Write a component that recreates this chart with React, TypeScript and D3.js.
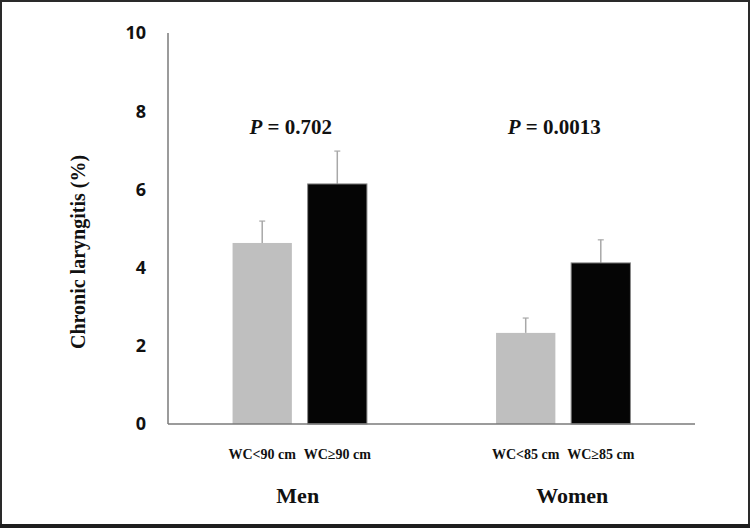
import React from "react";
import * as d3 from "d3";

const groups = ["Men", "Women"];
const subCategories = ["low", "high"];
const subLabels = [
  ["WC<90 cm", "WC≥90 cm"],
  ["WC<85 cm", "WC≥85 cm"],
];
const lowWC = [4.63, 2.33];
const highWC = [6.14, 4.12];
const lowErr = [0.56, 0.38];
const highErr = [0.84, 0.59];
const pValues = ["0.702", "0.0013"];
const yTicks = [0, 2, 4, 6, 8, 10];

const W = 750;
const H = 528;
const serif = "'Liberation Serif', 'Times New Roman', serif";
const sans = "'Open Sans', 'DejaVu Sans', sans-serif";

export default function App() {
  const y = d3.scaleLinear().domain([0, 10]).range([424, 33]);
  const x0 = d3
    .scaleBand<string>()
    .domain(groups)
    .range([168, 695])
    .paddingInner(0.49)
    .paddingOuter(0.245);
  const x1 = d3
    .scaleBand<string>()
    .domain(subCategories)
    .range([0, x0.bandwidth()])
    .paddingInner(0.21);

  const values = [lowWC, highWC];
  const errs = [lowErr, highErr];
  const fills = ["#bfbfbf", "#050505"];
  const groupLabelDx = [-2, 9];

  return (
    <svg
      width={W}
      height={H}
      style={{ position: "absolute", left: 0, top: 0, background: "#fff" }}
    >
      <rect x={0} y={0} width={W} height={H} fill="#fff" />
      {/* frame */}
      <rect x={1} y={1} width={W - 2} height={H - 3} fill="none" stroke="#2a2a2a" strokeWidth={2} />
      <rect x={0} y={H - 4} width={W} height={4} fill="#1e1e1e" />

      {/* bars */}
      {groups.map((g, gi) =>
        subCategories.map((s, si) => {
          const v = values[si][gi];
          const e = errs[si][gi];
          const bx = (x0(g) as number) + (x1(s) as number);
          const bw = x1.bandwidth();
          const cx = bx + bw / 2;
          return (
            <g key={g + s}>
              <line x1={cx} x2={cx} y1={y(v)} y2={y(v + e)} stroke="#a8a8a8" strokeWidth={1.5} />
              <line x1={cx - 3} x2={cx + 3} y1={y(v + e)} y2={y(v + e)} stroke="#a8a8a8" strokeWidth={1.2} />
              <rect
                x={bx}
                y={y(v)}
                width={bw}
                height={y(0) - y(v)}
                fill={fills[si]}
                stroke={si === 1 ? "#8a8a8a" : "none"}
                strokeWidth={1}
              />
            </g>
          );
        })
      )}

      {/* axes */}
      <line x1={168} x2={168} y1={y(10)} y2={y(0)} stroke="#7a7a7a" strokeWidth={1.5} />
      <line x1={168} x2={x0.range()[1]} y1={y(0)} y2={y(0)} stroke="#7a7a7a" strokeWidth={1.5} />

      {yTicks.map((t) => (
        <text
          key={t}
          x={146}
          y={y(t)}
          dy="0.36em"
          textAnchor="end"
          fontFamily={sans}
          fontWeight={700}
          fontSize={18}
          fill="#111"
        >
          {t}
        </text>
      ))}

      <text
        transform={`translate(85,252) rotate(-90)`}
        textAnchor="middle"
        fontFamily={serif}
        fontWeight={700}
        fontSize={20}
        fill="#111"
      >
        Chronic laryngitis (%)
      </text>

      {/* P values */}
      {groups.map((g, gi) => (
        <text
          key={"p" + g}
          x={(x0(g) as number) + x0.bandwidth() / 2 - 9}
          y={134}
          textAnchor="middle"
          fontFamily={serif}
          fontWeight={700}
          fontSize={21}
          fill="#111"
        >
          <tspan fontStyle="italic">P</tspan>
          {" = " + pValues[gi]}
        </text>
      ))}

      {/* sub labels */}
      {groups.map((g, gi) =>
        subCategories.map((s, si) => (
          <text
            key={"sl" + g + s}
            x={(x0(g) as number) + (x1(s) as number) + x1.bandwidth() / 2}
            y={459}
            textAnchor="middle"
            fontFamily={serif}
            fontWeight={700}
            fontSize={14}
            fill="#111"
          >
            {subLabels[gi][si]}
          </text>
        ))
      )}

      {/* group labels */}
      {groups.map((g, gi) => (
        <text
          key={"g" + g}
          x={(x0(g) as number) + x0.bandwidth() / 2 + groupLabelDx[gi]}
          y={503}
          textAnchor="middle"
          fontFamily={serif}
          fontWeight={700}
          fontSize={22}
          fill="#111"
        >
          {g}
        </text>
      ))}
    </svg>
  );
}
